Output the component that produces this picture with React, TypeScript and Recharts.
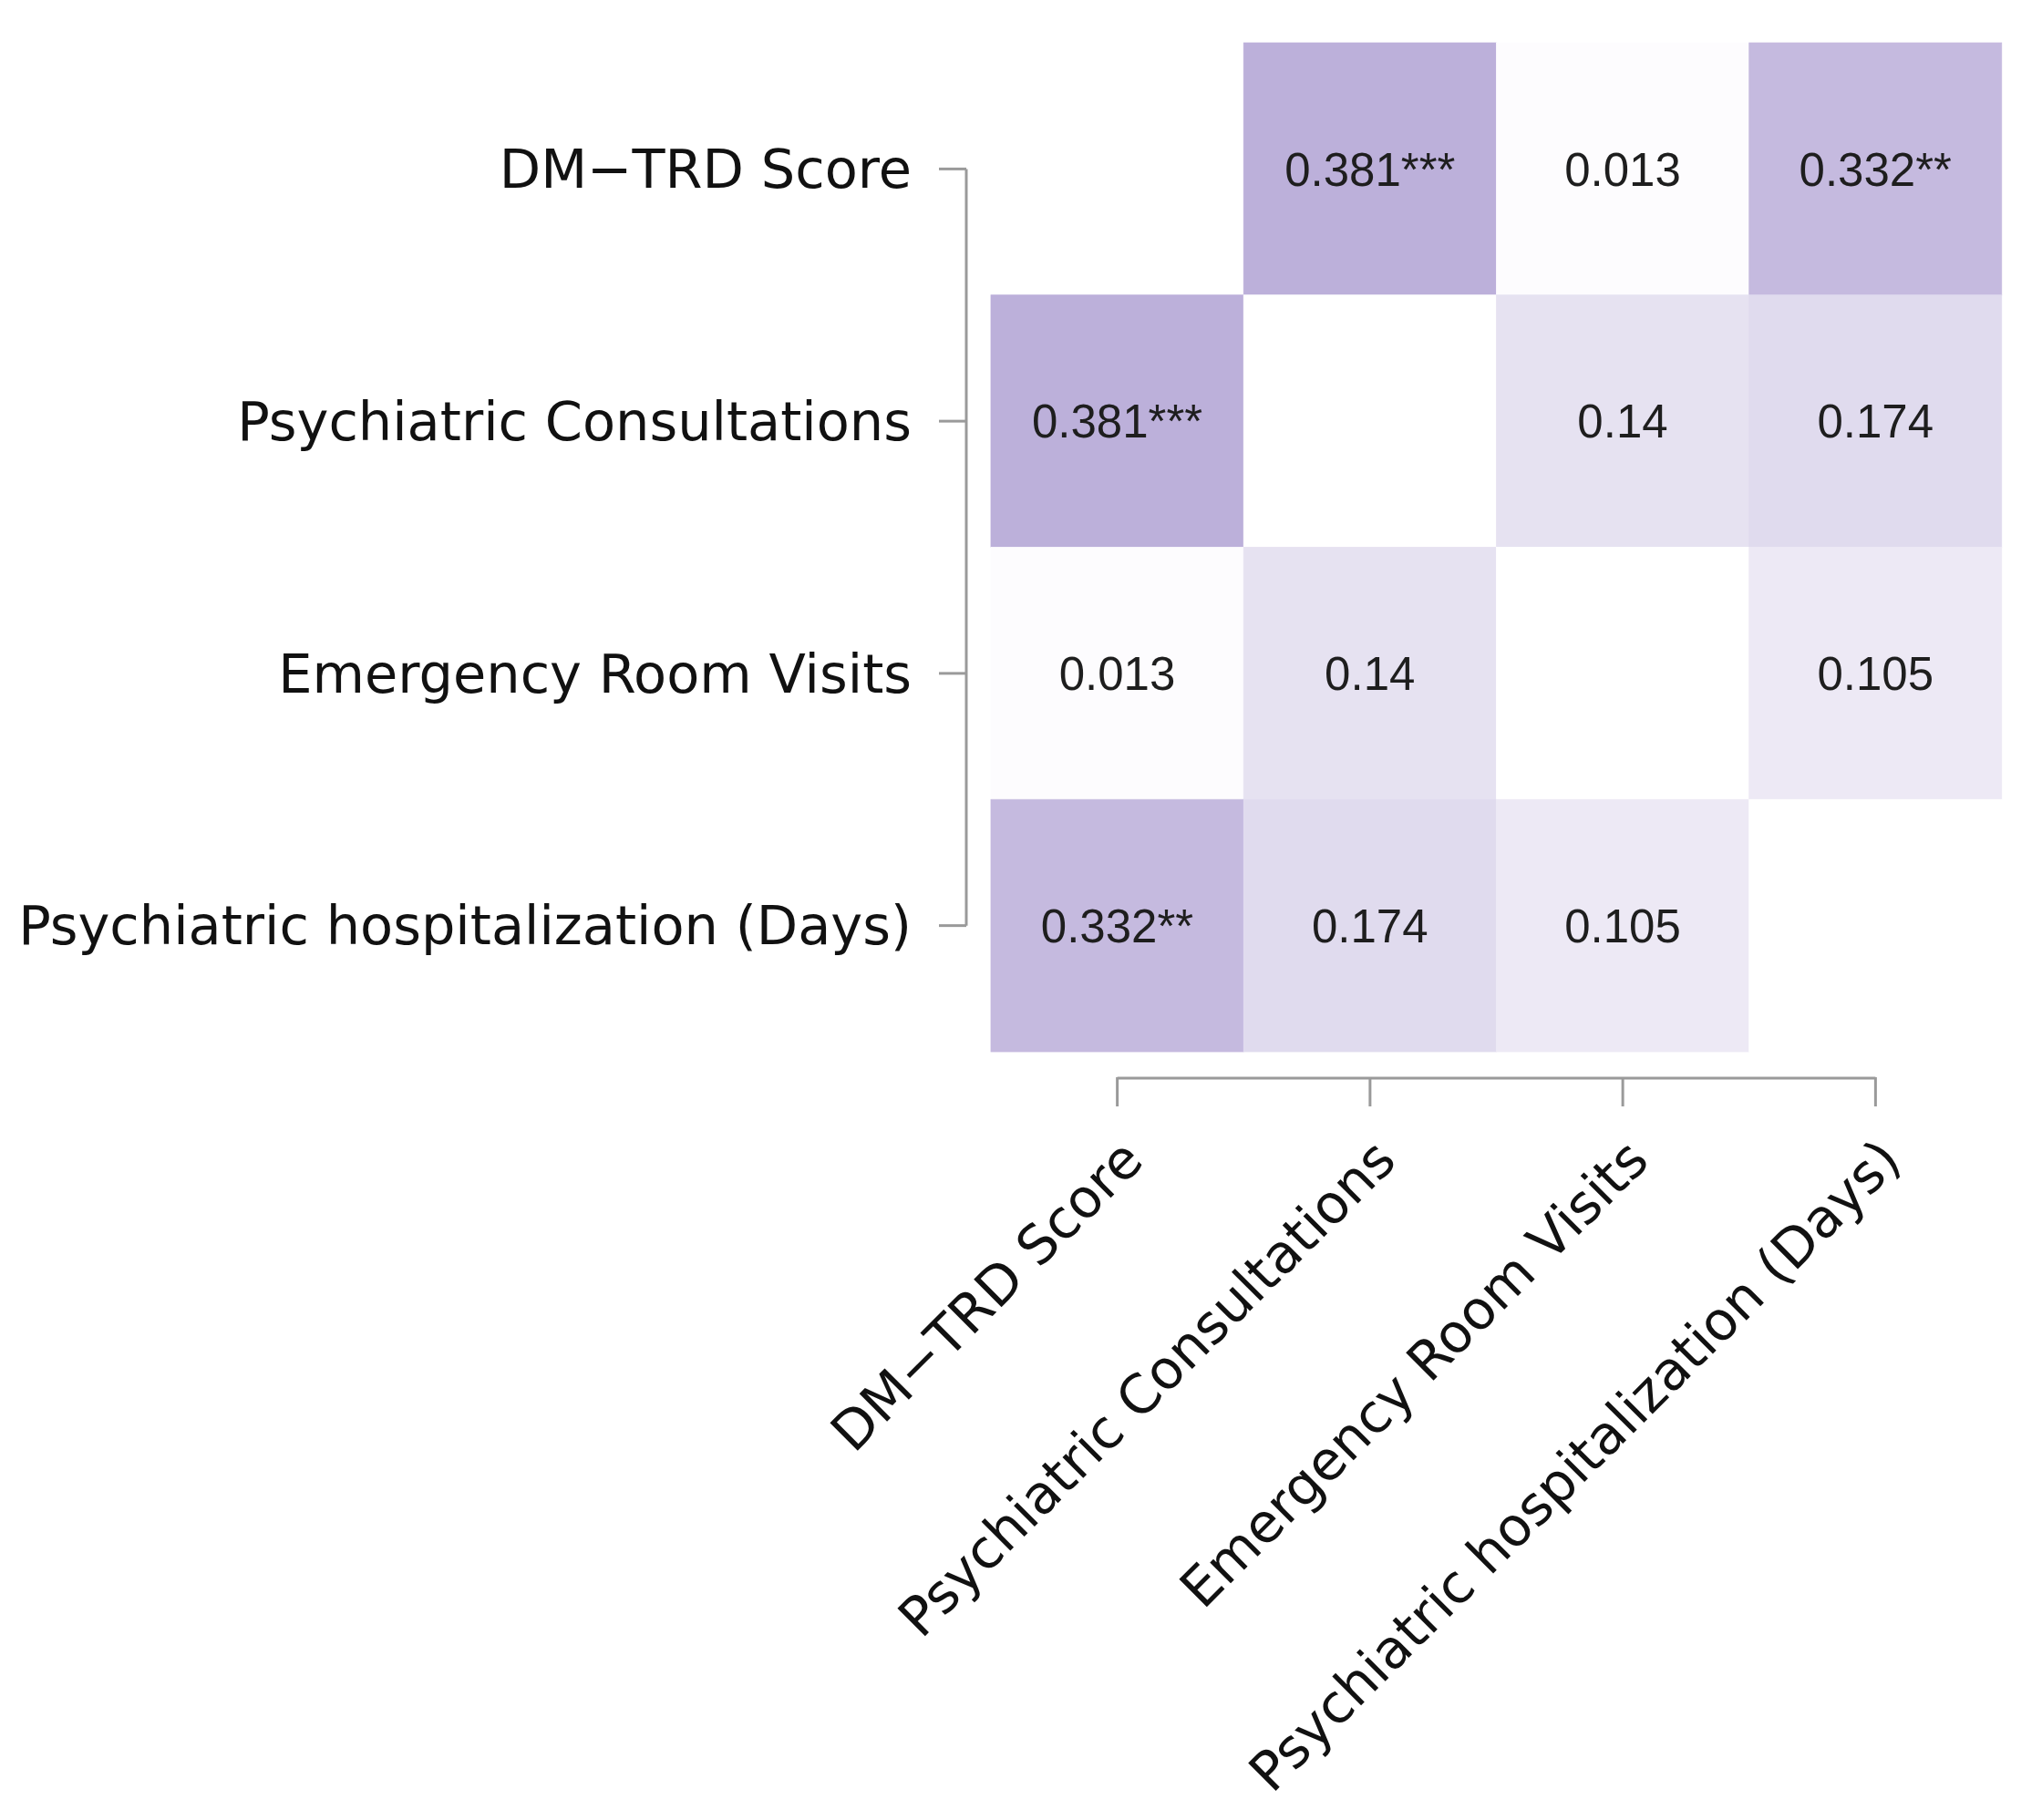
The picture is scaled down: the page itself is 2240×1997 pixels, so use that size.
import React from 'react';
import { BarChart, Bar, XAxis, YAxis, ReferenceLine } from 'recharts';

// ---- data ----
const variables = [
  'DM\u2212TRD Score',
  'Psychiatric Consultations',
  'Emergency Room Visits',
  'Psychiatric hospitalization (Days)',
];
const columnPositions = [1, 2, 3, 4];
const rowTicks = [0.5, 1.5, 2.5, 3.5];

const dmTrdScore = [null, 0.381, 0.013, 0.332];
const psychiatricConsultations = [0.381, null, 0.14, 0.174];
const emergencyRoomVisits = [0.013, 0.14, null, 0.105];
const psychiatricHospitalization = [0.332, 0.174, 0.105, null];

const dmTrdStars = ['', '***', '', '**'];
const consultationsStars = ['***', '', '', ''];
const erStars = ['', '', '', ''];
const hospitalizationStars = ['**', '', '', ''];

const rows: (number | null)[][] = [dmTrdScore, psychiatricConsultations, emergencyRoomVisits, psychiatricHospitalization];
const stars: string[][] = [dmTrdStars, consultationsStars, erStars, hospitalizationStars];

const data = columnPositions.map((pos, c) => {
  const entry: any = { pos, name: variables[c] };
  rows.forEach((_, r) => {
    entry[`r${r}`] = 1;
  });
  return entry;
});

// ---- styles ----
const PURPLE = [79, 48, 158];
const cellColor = (v: number | null) => {
  if (v == null) return '#ffffff';
  const t = Math.max(0, Math.min(1, Math.abs(v)));
  const ch = PURPLE.map((p) => Math.round(255 + (p - 255) * t));
  return `rgb(${ch[0]},${ch[1]},${ch[2]})`;
};
const AXIS_COLOR = '#9a9a9a';
const LABEL_FONT = '"DejaVu Sans", sans-serif';
const CELL_FONT = '"Liberation Sans", Arial, sans-serif';

const makeShape = (r: number) => (props: any) => {
  const { x, y, width, height, index } = props;
  const rx = Math.min(x, x + width);
  const ry = Math.min(y, y + height);
  const w = Math.abs(width);
  const h = Math.abs(height);
  const v = rows[r][index];
  const fill = cellColor(v);
  return (
    <g>
      <rect x={rx} y={ry} width={w} height={h} fill={fill} stroke={fill} strokeWidth={0.8} />
      {v != null && (
        <text
          x={rx + w / 2}
          y={ry + h / 2}
          dy="0.36em"
          textAnchor="middle"
          fontFamily={CELL_FONT}
          fontSize={51}
          fill="#1e1e1e"
        >
          {`${v}${stars[r][index]}`}
        </text>
      )}
    </g>
  );
};

const YTick = (props: any) => {
  const { x, y, index } = props;
  return (
    <g>
      <line x1={x - 57} x2={x - 27} y1={y} y2={y} stroke={AXIS_COLOR} strokeWidth={3} />
      <text x={x - 87} y={y} dy="0.35em" textAnchor="end" fontFamily={LABEL_FONT} fontSize={59} fill="#111">
        {variables[index]}
      </text>
    </g>
  );
};

const XTick = (props: any) => {
  const { x, y, index } = props;
  return (
    <g>
      <line x1={x} x2={x} y1={y + 28} y2={y + 60} stroke={AXIS_COLOR} strokeWidth={3} />
      <text
        transform={`translate(${x + 31},${y + 122}) rotate(-45)`}
        textAnchor="end"
        fontFamily={LABEL_FONT}
        fontSize={59}
        fill="#111"
      >
        {variables[index]}
      </text>
    </g>
  );
};

export default function App() {
  return (
    <div style={{ width: 2224, height: 1980, background: '#fff' }}>
      <BarChart
        width={2224}
        height={1980}
        data={data}
        margin={{ top: 39, right: 36, left: 0, bottom: 0 }}
        barCategoryGap={0}
        barGap={0}
      >
        <XAxis
          type="number"
          dataKey="pos"
          domain={[0.5, 4.5]}
          ticks={columnPositions}
          interval={0}
          height={834}
          tickLine={false}
          axisLine={false}
          tickSize={0}
          tickMargin={0}
          tick={<XTick />}
        />
        <YAxis
          type="number"
          domain={[0, 4]}
          reversed
          ticks={rowTicks}
          interval={0}
          width={1079}
          tickLine={false}
          axisLine={false}
          tickSize={0}
          tickMargin={0}
          tick={<YTick />}
        />
        {rows.map((_, r) => (
          <Bar
            key={r}
            dataKey={`r${r}`}
            stackId="heat"
            isAnimationActive={false}
            shape={makeShape(r)}
          />
        ))}
        <ReferenceLine
          segment={[{ x: 1, y: 4.105 }, { x: 4, y: 4.105 }]}
          stroke={AXIS_COLOR}
          strokeWidth={3}
          ifOverflow="visible"
        />
        <ReferenceLine
          segment={[{ x: 0.4026, y: 0.5 }, { x: 0.4026, y: 3.5 }]}
          stroke={AXIS_COLOR}
          strokeWidth={3}
          ifOverflow="visible"
        />
      </BarChart>
    </div>
  );
}
